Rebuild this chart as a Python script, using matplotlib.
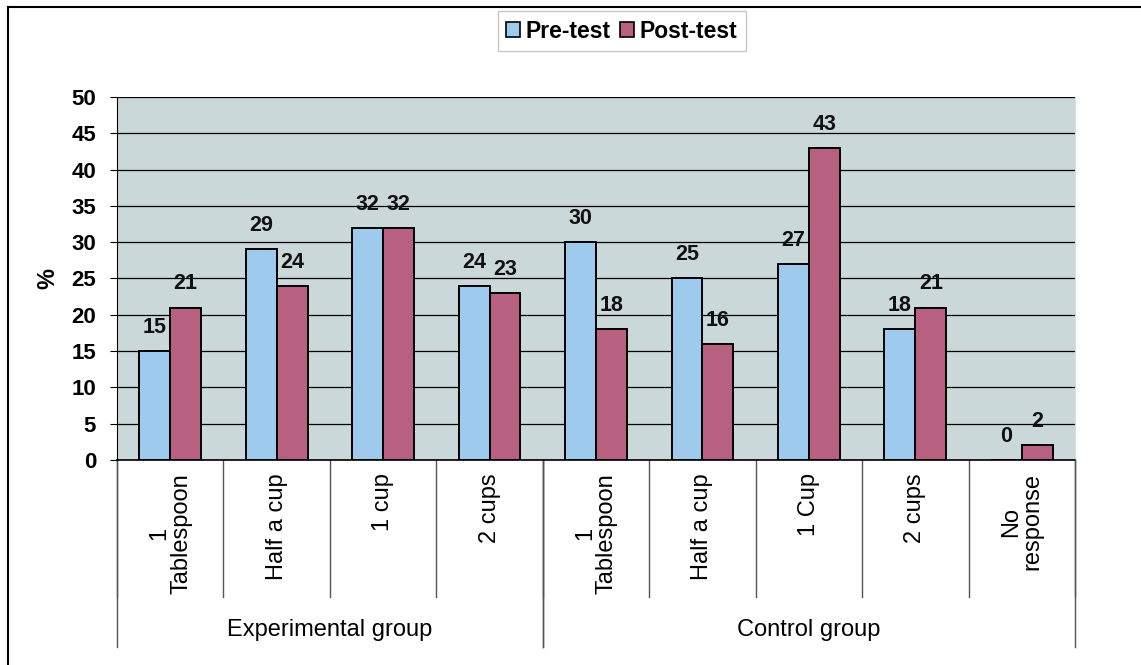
import matplotlib.pyplot as plt
from matplotlib.lines import Line2D
from matplotlib.patches import Patch

plt.rcParams['font.family'] = ['Liberation Sans', 'DejaVu Sans']

categories = ["1\nTablespoon", "Half a cup", "1 cup", "2 cups",
              "1\nTablespoon", "Half a cup", "1 Cup", "2 cups", "No\nresponse"]
groups = ["Experimental group", "Control group"]
group_sizes = [4, 5]
pre_test = [15, 29, 32, 24, 30, 25, 27, 18, 0]
post_test = [21, 24, 32, 23, 18, 16, 43, 21, 2]

pre_color = '#9ECAEE'
post_color = '#B8607F'
bg_color = '#CBD8DA'

fig = plt.figure(figsize=(11.41, 6.65), dpi=100)
ax = fig.add_axes([117 / 1141, 205 / 665, 958 / 1141, 363 / 665])
ax.set_facecolor(bg_color)

n = len(categories)
xs = [i + 0.5 for i in range(n)]
w = 0.29
ax.bar([x - w / 2 for x in xs], pre_test, width=w, color=pre_color,
       edgecolor='black', linewidth=1.4, zorder=3)
ax.bar([x + w / 2 for x in xs], post_test, width=w, color=post_color,
       edgecolor='black', linewidth=1.4, zorder=3)

for x, v in zip(xs, pre_test):
    ax.annotate(str(v), (x - w / 2, v), xytext=(0, 17), textcoords='offset points',
                ha='center', va='center', fontsize=15.5, fontweight='bold', color='#111111')
for x, v in zip(xs, post_test):
    ax.annotate(str(v), (x + w / 2, v), xytext=(0, 17), textcoords='offset points',
                ha='center', va='center', fontsize=15.5, fontweight='bold', color='#111111')

ax.set_xlim(0, n)
ax.set_ylim(0, 50)
ax.set_yticks(range(0, 51, 5))
ax.yaxis.grid(True, color='black', linewidth=0.9, zorder=1)
ax.set_axisbelow(True)
ax.tick_params(axis='y', labelsize=16, length=5, direction='out', pad=10)
for lab in ax.get_yticklabels():
    lab.set_fontweight('bold')
ax.set_xticks([])
ax.spines['right'].set_color('#dddddd')
ax.spines['top'].set_visible(False)
ax.spines['left'].set_color('black')
ax.spines['bottom'].set_color('black')
ax.spines['bottom'].set_linewidth(1.2)
ax.set_ylabel('%', fontsize=17, fontweight='bold', labelpad=9)

# category labels and dividers under the axis
trans = ax.get_xaxis_transform()
for x, lab in zip(xs, categories):
    ax.text(x, -0.036, lab, transform=trans, rotation=90, ha='center', va='top',
            multialignment='center', fontsize=17, linespacing=1.0)
for i in range(n + 1):
    ax.plot([i, i], [0, -0.377], transform=trans, color='#555555',
            linewidth=1.0, clip_on=False)

start = 0
for g, size in zip(groups, group_sizes):
    for edge in (start, start + size):
        ax.plot([edge, edge], [0, -0.515], transform=trans, color='#555555',
                linewidth=1.0, clip_on=False)
    ax.text(start + size / 2, -0.468, g, transform=trans, ha='center',
            va='center', fontsize=17)
    start += size

# legend
handles = [Patch(facecolor=pre_color, edgecolor='black', linewidth=1.2, label='Pre-test'),
           Patch(facecolor=post_color, edgecolor='black', linewidth=1.2, label='Post-test')]
leg = fig.legend(handles=handles, loc='center', bbox_to_anchor=(622 / 1141, 1 - 31 / 665),
                 ncol=2, fontsize=16.5, frameon=True, fancybox=False, edgecolor='#bbbbbb',
                 handlelength=0.6, handleheight=0.6, handletextpad=0.25,
                 columnspacing=0.4, borderpad=0.35)
for t in leg.get_texts():
    t.set_fontweight('bold')

# outer frame (left and top edges)
fig.add_artist(Line2D([8 / 1141, 8 / 1141], [0, 1 - 7 / 665], color='black', linewidth=1.5))
fig.add_artist(Line2D([8 / 1141, 1], [1 - 7 / 665, 1 - 7 / 665], color='black', linewidth=1.5))

fig.savefig('out.png', dpi=100)
